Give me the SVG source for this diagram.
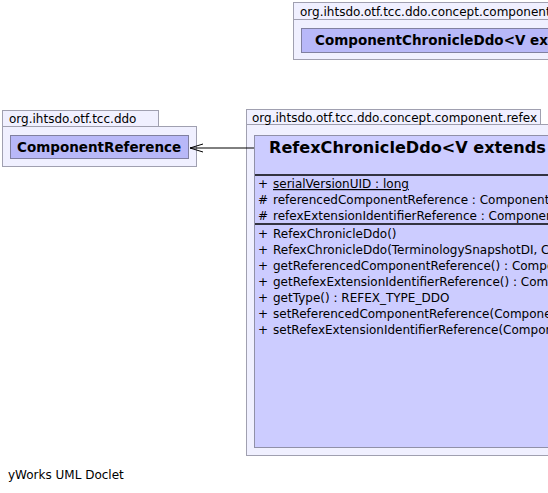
<svg xmlns="http://www.w3.org/2000/svg" width="548" height="493" viewBox="0 0 548 493">
<style>
.pkg{fill:#f0f0ff;stroke:#a0a0b0;stroke-width:1}
.cls{fill:#ccccff;stroke:#9090a8;stroke-width:1}
.cls2{fill:#b8b8f8;stroke:#8080a0;stroke-width:1}
.t{font-family:"DejaVu Sans",sans-serif;font-size:12px;fill:#000}
.b{font-family:"DejaVu Sans",sans-serif;font-weight:bold;font-size:13.5px;fill:#000}
.h{font-family:"DejaVu Sans",sans-serif;font-weight:bold;font-size:16.1px;fill:#000}
.sep{stroke:#000;stroke-width:1.5}
.edge{stroke:#000;stroke-width:1;fill:none}
</style>
<rect width="548" height="493" fill="#ffffff"/>
<g id="pkg-component">
<rect class="pkg" x="293.5" y="2.5" width="260" height="17"/>
<rect class="pkg" x="293.5" y="19.5" width="260" height="40"/>
<text class="t" x="300" y="16">org.ihtsdo.otf.tcc.ddo.concept.component</text>
<rect class="cls2" x="301.5" y="28.5" width="250" height="24"/>
<text class="b" x="315" y="45">ComponentChronicleDdo&lt;V extends</text>
</g>
<g id="pkg-ddo">
<rect class="pkg" x="2.5" y="110.5" width="156" height="16"/>
<rect class="pkg" x="2.5" y="126.5" width="194" height="40"/>
<text class="t" x="9" y="123">org.ihtsdo.otf.tcc.ddo</text>
<rect class="cls2" x="10.5" y="135.5" width="178" height="23"/>
<text class="b" x="17" y="152">ComponentReference</text>
</g>
<g id="pkg-refex">
<rect class="pkg" x="246.5" y="109.5" width="294" height="15"/>
<rect class="pkg" x="246.5" y="124.5" width="310" height="331"/>
<text class="t" x="252" y="122">org.ihtsdo.otf.tcc.ddo.concept.component.refex</text>
<rect class="cls" x="254.5" y="135.5" width="300" height="312"/>
<text class="h" x="269" y="153">RefexChronicleDdo&lt;V extends</text>
<line class="sep" x1="255" y1="175" x2="548" y2="175"/>
<text class="t" x="258" y="188">+</text>
<text class="t" x="273" y="188" text-decoration="underline">serialVersionUID : long</text>
<text class="t" x="258" y="204">#</text>
<text class="t" x="273" y="204">referencedComponentReference : ComponentReference</text>
<text class="t" x="258" y="220">#</text>
<text class="t" x="273" y="220">refexExtensionIdentifierReference : ComponentReference</text>
<line class="sep" x1="255" y1="224" x2="548" y2="224"/>
<text class="t" x="258" y="238">+</text>
<text class="t" x="273" y="238">RefexChronicleDdo()</text>
<text class="t" x="258" y="254">+</text>
<text class="t" x="273" y="254">RefexChronicleDdo(TerminologySnapshotDI, ConceptChronicleDdo)</text>
<text class="t" x="258" y="270">+</text>
<text class="t" x="273" y="270">getReferencedComponentReference() : ComponentReference</text>
<text class="t" x="258" y="286">+</text>
<text class="t" x="273" y="286">getRefexExtensionIdentifierReference() : ComponentReference</text>
<text class="t" x="258" y="302">+</text>
<text class="t" x="273" y="302">getType() : REFEX_TYPE_DDO</text>
<text class="t" x="258" y="318">+</text>
<text class="t" x="273" y="318">setReferencedComponentReference(ComponentReference)</text>
<text class="t" x="258" y="334">+</text>
<text class="t" x="273" y="334">setRefexExtensionIdentifierReference(ComponentReference)</text>
</g>
<g id="connectors">
<line class="edge" x1="190" y1="148" x2="254" y2="148"/>
<polyline class="edge" points="203,144 190,148 203,152"/>
</g>
<text class="t" x="8" y="479">yWorks UML Doclet</text>
</svg>
